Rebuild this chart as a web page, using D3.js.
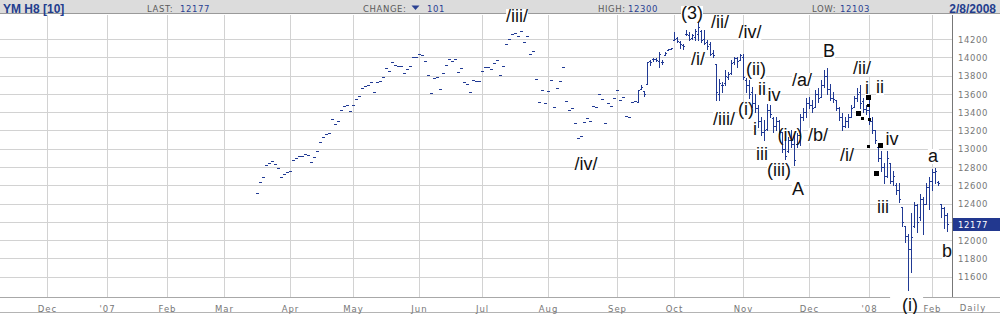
<!DOCTYPE html>
<html>
<head>
<meta charset="utf-8">
<script src="https://cdn.jsdelivr.net/npm/d3@7"></script>
<style>
body { margin: 0; background: #fff; }
svg { display: block; }
</style>
</head>
<body>
<svg width="1000" height="314"></svg>
<script>
var svg = d3.select('svg');

// x axis counts trading days from 1 Dec 2006
var monthDays = [0, 20, 40, 59, 81, 102, 124, 145, 167, 190, 209, 232, 254, 274, 295];
var monthNames = ['Dec', "'07", 'Feb', 'Mar', 'Apr', 'May', 'Jun', 'Jul', 'Aug', 'Sep', 'Oct', 'Nov', 'Dec', "'08", 'Feb'];
var priceTicks = [11600, 11800, 12000, 12200, 12400, 12600, 12800, 13000, 13200, 13400, 13600, 13800, 14000, 14200];

// thin days: a single print (open = high = low = close), day 70 .. 196
var thinStart = 70;
var thinPrices = [
    12513, 12633, 12688, 12819, 12841, 12863, 12830, 12786, 12688, 12720,
    12742, 12753, 12873, 12895, 12917, 12917, 12939, 12928, 12852, 12906,
    12972, 13070, 13125, 13158, 13169, 13322, 13267, 13300, 13420, 13464,
    13475, 13409, 13475, 13541, 13573, 13661, 13683, 13694, 13727, 13617,
    13727, 13738, 13781, 13880, 13847, 13945, 13912, 13902, 13902, 13825,
    13869, 13902, 14000, 14000, 14033, 14022, 13956, 13803, 13606, 13770,
    13781, 13650, 13825, 13912, 13978, 13956, 13978, 13836, 13880, 13727,
    13705, 13617, 13748, 13738, 13738, 13847, 13891, 13891, 13869, 13934,
    13967, 13803, 13902, 14142, 14197, 14252, 14270, 14230, 14284, 14164,
    14230, 14033, 14066, 13759, 13508, 13639, 13497, 13628, 13748, 13453,
    13661, 13738, 13891, 13519, 13420, 13442, 13278, 13114, 13136, 13289,
    13333, 13300, 13464, 13453, 13595, 13541, 13278, 13497, 13464, 13552,
    13639, 13530, 13563, 13355, 13344, 13508, 13519
];

// full OHLC bars, day 197 .. 300 (8 Feb 2008)
var barStart = 197;
var opens = [
    13514, 13650, 13630, 13705, 13960, 13980, 13978, 13960, 13950, 14030,
    14080, 14095, 14190, 14210, 14170, 14130, 14250, 14240, 14210, 14220,
    14250, 14290, 14200, 14170, 14150, 14050, 13930, 13600, 13700, 13720,
    13780, 13830, 13950, 13990, 13970, 14000, 13750, 13700, 13620, 13500,
    13450, 13300, 13180, 13220, 13420, 13340, 13250, 13300, 13180, 13000,
    12980, 13100, 13050, 13050, 13150, 13350, 13400, 13500, 13480, 13460,
    13600, 13570, 13700, 13800, 13650, 13560, 13530, 13450, 13350, 13250,
    13300, 13350, 13460, 13550, 13620, 13520, 13430, 13420, 13300, 13200,
    13020, 12900, 12800, 12700, 12840, 12650, 12600, 12550, 12360, 12150,
    12050, 11900, 12150, 12380, 12250, 12450, 12400, 12580, 12650, 12740,
    12640, 12400, 12350, 12270
];
var highs = [
    13639, 13700, 13630, 13945, 13970, 13990, 13990, 14060, 13970, 14060,
    14095, 14105, 14280, 14220, 14175, 14140, 14295, 14277, 14260, 14313,
    14386, 14295, 14295, 14186, 14167, 14076, 13931, 13767, 13730, 13858,
    13840, 13967, 14003, 14003, 14040, 14040, 13770, 13750, 13680, 13600,
    13480, 13350, 13310, 13490, 13475, 13350, 13350, 13310, 13180, 13110,
    13130, 13200, 13160, 13170, 13380, 13440, 13550, 13570, 13530, 13640,
    13660, 13750, 13860, 13880, 13710, 13620, 13530, 13460, 13390, 13350,
    13380, 13480, 13580, 13660, 13700, 13550, 13480, 13530, 13350, 13200,
    13020, 12980, 12840, 12980, 12840, 12760, 12630, 12620, 12360, 12150,
    12070, 12300, 12420, 12400, 12510, 12470, 12620, 12690, 12780, 12790,
    12650, 12400, 12360, 12300
];
var lows = [
    13514, 13650, 13580, 13705, 13920, 13960, 13960, 13890, 13930, 14030,
    14080, 14090, 14186, 14170, 14100, 14090, 14240, 14186, 14200, 14186,
    14186, 14167, 14140, 14095, 14022, 14003, 13530, 13530, 13620, 13700,
    13760, 13822, 13931, 13895, 13967, 13760, 13620, 13550, 13460, 13400,
    13240, 13150, 13090, 13200, 13350, 13180, 13200, 13160, 12960, 12890,
    12960, 13020, 12820, 13020, 13040, 13310, 13350, 13450, 13400, 13460,
    13510, 13570, 13680, 13600, 13530, 13510, 13420, 13310, 13200, 13240,
    13240, 13350, 13460, 13520, 13450, 13400, 13380, 13270, 13170, 13060,
    12870, 12760, 12620, 12690, 12620, 12600, 12510, 12420, 12160, 11980,
    11450, 11650, 12140, 12090, 12220, 12070, 12400, 12340, 12550, 12620,
    12600, 12250, 12130, 12103
];
var closes = [
    13639, 13672, 13600, 13945, 13945, 13978, 13970, 14040, 13945, 14047,
    14087, 14098, 14200, 14178, 14140, 14120, 14260, 14200, 14240, 14290,
    14330, 14190, 14160, 14120, 14040, 14020, 13620, 13720, 13700, 13800,
    13820, 13940, 13990, 13960, 14020, 13780, 13700, 13600, 13500, 13450,
    13300, 13180, 13200, 13420, 13380, 13250, 13300, 13180, 13000, 12920,
    13100, 13050, 12880, 13150, 13350, 13400, 13500, 13480, 13450, 13600,
    13550, 13700, 13800, 13650, 13560, 13540, 13450, 13350, 13250, 13300,
    13350, 13450, 13550, 13600, 13500, 13430, 13420, 13300, 13200, 13100,
    12900, 12800, 12700, 12900, 12650, 12700, 12550, 12450, 12200, 12050,
    11900, 12030, 12380, 12200, 12450, 12400, 12580, 12650, 12740, 12760,
    12620, 12350, 12278, 12177
];

// wave count written on the chart (day, price of the baseline)
var waveTexts  = ['/iii/', '(3)', '/ii/', '/iv/', '/i/', '/iii/', '(ii)', '(i)', 'ii', 'iv', 'i', 'iii', '(iv)', '(iii)', 'A', '/a/', '/b/', 'B', '/ii/', '/i/', 'i', 'ii', 'iv', 'iii', 'a', 'b', '/iv/'];
var waveDays   = [156.7, 215, 224.3, 234.3, 217, 225.7, 236.3, 233, 238.3, 242.3, 236, 238.3, 247.7, 244, 250.3, 251.7, 257, 260.7, 271.7, 266.7, 273.3, 277.7, 281.7, 278.7, 295.3, 300, 179.7];
var wavePrices = [14386, 14419, 14320, 14211, 13916, 13260, 13806, 13369, 13588, 13522, 13150, 12877, 13085, 12702, 12494, 13686, 13085, 14003, 13820, 12866, 13598, 13609, 13041, 12297, 12855, 11816, 12767];
var bottomText = '(i)', bottomDay = 287.7;

// black marker squares
var bigMarkDays = [270.3, 273.7, 277.7, 276.3];
var bigMarkPrices = [13391, 13570, 13041, 12735];
var smallMarkDays = [271.7, 273.7, 274, 273.7];
var smallMarkPrices = [13336, 13478, 13325, 13030];

var lastPrice = 12177, changeValue = 101, dayHigh = 12300, dayLow = 12103;

var blue = '#213a94';
var plotRight = 952, plotTop = 15, plotBottom = 297;

var x = d3.scaleLinear().domain([0, 300]).range([47, 947]);
var y = d3.scaleLinear().domain([11600, 14200]).range([276.7, 39]);
var px = function (d) { return Math.round(x(d)); };
var py = function (v) { return Math.round(y(v)); };

// header
svg.append('rect').attr('x', 0).attr('y', 0).attr('width', 1000).attr('height', 14).attr('fill', '#dcdcdc');
svg.append('line').attr('x1', 0).attr('x2', 1000).attr('y1', 13.5).attr('y2', 13.5).attr('stroke', '#9a9a9a');

var head = svg.append('g').attr('font-family', 'DejaVu Sans, sans-serif').attr('font-size', 8.5).attr('letter-spacing', 0.6);
head.append('text').attr('x', 3).attr('y', 12.5).attr('font-family', 'Liberation Sans, Arial, sans-serif')
    .attr('font-size', 12).attr('font-weight', 'bold').attr('letter-spacing', 0).attr('fill', '#233d8e').text('YM H8 [10]');
function headPair(xl, label, xv, value) {
    head.append('text').attr('x', xl).attr('y', 11.5).attr('fill', '#5a5a5a').text(label);
    head.append('text').attr('x', xv).attr('y', 11.5).attr('fill', '#2a4192').text(value);
}
headPair(147, 'LAST:', 180, lastPrice);
headPair(363, 'CHANGE:', 427, changeValue);
head.append('path').attr('d', 'M411.5,5.5 L419.5,5.5 L415.5,10 Z').attr('fill', '#2a4192');
headPair(598, 'HIGH:', 628, dayHigh);
headPair(812, 'LOW:', 840, dayLow);
head.append('text').attr('x', 996).attr('y', 12.5).attr('text-anchor', 'end').attr('font-family', 'Liberation Sans, Arial, sans-serif')
    .attr('font-size', 12).attr('font-weight', 'bold').attr('letter-spacing', 0).attr('fill', '#233d8e').text('2/8/2008');

// grid
var grid = svg.append('g').attr('shape-rendering', 'crispEdges').attr('stroke', '#d2d2d2');
grid.selectAll('.vg').data(monthDays).enter().append('line')
    .attr('x1', function (d) { return px(d) + 0.5; })
    .attr('x2', function (d) { return px(d) + 0.5; })
    .attr('y1', plotTop).attr('y2', plotBottom);
grid.selectAll('.hg').data(priceTicks).enter().append('line')
    .attr('x1', 0).attr('x2', plotRight)
    .attr('y1', function (d) { return py(d) + 0.5; })
    .attr('y2', function (d) { return py(d) + 0.5; });

// frame lines
svg.append('line').attr('x1', plotRight + 0.5).attr('x2', plotRight + 0.5).attr('y1', plotTop).attr('y2', plotBottom)
    .attr('stroke', '#777').attr('shape-rendering', 'crispEdges');
svg.append('line').attr('x1', 0).attr('x2', 1000).attr('y1', plotBottom + 0.5).attr('y2', plotBottom + 0.5)
    .attr('stroke', '#a8a8a8').attr('shape-rendering', 'crispEdges');
svg.append('line').attr('x1', 0).attr('x2', 1000).attr('y1', 312.5).attr('y2', 312.5)
    .attr('stroke', '#b4b4b4').attr('shape-rendering', 'crispEdges');

// wave labels: white backing under the bars (cuts the grid lines)
var labelBack = svg.append('g');
var barsG = svg.append('g').attr('stroke', blue).attr('fill', 'none').attr('shape-rendering', 'crispEdges');
var labelG = svg.append('g').attr('font-family', 'Liberation Sans, Arial, sans-serif').attr('font-size', 18).attr('fill', '#111')
    .attr('text-anchor', 'middle');

// bars
function barPath(i, o, h, l, c) {
    var cx = px(i);
    return 'M' + (cx - 1) + ',' + (py(o) + 0.5) + 'H' + (cx + 1) +
        'M' + (cx + 0.5) + ',' + py(h) + 'V' + (py(l) + 1) +
        'M' + cx + ',' + (py(c) + 0.5) + 'H' + (cx + 2);
}
barsG.selectAll('.thin').data(thinPrices).enter().append('path')
    .attr('d', function (d, k) { return barPath(thinStart + k, d, d, d, d); });
barsG.selectAll('.bar').data(closes).enter().append('path')
    .attr('d', function (d, k) { return barPath(barStart + k, opens[k], highs[k], lows[k], d); });

// marker squares
svg.selectAll('.bigmark').data(bigMarkDays).enter().append('rect')
    .attr('x', function (d) { return px(d) - 2; })
    .attr('y', function (d, k) { return py(bigMarkPrices[k]) - 2; })
    .attr('width', 5).attr('height', 5).attr('fill', '#000');
svg.selectAll('.smallmark').data(smallMarkDays).enter().append('rect')
    .attr('x', function (d) { return px(d) - 1; })
    .attr('y', function (d, k) { return py(smallMarkPrices[k]) - 1; })
    .attr('width', 3).attr('height', 3).attr('fill', '#000');

// wave labels
labelG.selectAll('text').data(waveTexts).enter().append('text')
    .attr('x', function (d, k) { return x(waveDays[k]); })
    .attr('y', function (d, k) { return y(wavePrices[k]); })
    .text(function (d) { return d; })
    .each(function () {
        var b = this.getBBox();
        labelBack.append('rect').attr('x', b.x).attr('y', b.y + 3).attr('width', b.width).attr('height', b.height - 5).attr('fill', '#fff');
    });

// axes
var yAxis = d3.axisRight(y).tickValues(priceTicks).tickSize(0).tickPadding(6).tickFormat(d3.format('d'));
var yg = svg.append('g').attr('transform', 'translate(' + plotRight + ',0.5)').call(yAxis);
yg.select('.domain').remove();
yg.selectAll('text').attr('font-family', 'DejaVu Sans, sans-serif').attr('font-size', 8.5).attr('letter-spacing', 0.6).attr('fill', '#777');

var xAxis = d3.axisBottom(x).tickValues(monthDays).tickSize(0).tickPadding(8.5)
    .tickFormat(function (d, k) { return monthNames[k]; });
var xg = svg.append('g').attr('transform', 'translate(0,' + plotBottom + ')').call(xAxis);
xg.select('.domain').remove();
xg.selectAll('text').attr('font-family', 'DejaVu Sans, sans-serif').attr('font-size', 8.5).attr('letter-spacing', 1).attr('fill', '#777');
svg.append('text').attr('x', 973).attr('y', 311).attr('text-anchor', 'middle').attr('font-family', 'DejaVu Sans, sans-serif')
    .attr('font-size', 8.5).attr('letter-spacing', 1).attr('fill', '#777').text('Daily');

// last price box
var lastG = svg.append('g');
lastG.append('rect').attr('x', plotRight + 1).attr('y', py(lastPrice) - 6).attr('width', 1000 - plotRight).attr('height', 13).attr('fill', '#22388f');
lastG.append('text').attr('x', plotRight + 6).attr('y', py(lastPrice) + 3.5).attr('font-family', 'DejaVu Sans, sans-serif')
    .attr('font-size', 8.5).attr('letter-spacing', 0.6).attr('fill', '#fff').text(lastPrice);

// bottom label sits on a white patch over the axis
var bt = svg.append('text').attr('x', x(bottomDay)).attr('y', 311).attr('text-anchor', 'middle')
    .attr('font-family', 'Liberation Sans, Arial, sans-serif').attr('font-size', 18).attr('fill', '#111').text(bottomText);
var bb = bt.node().getBBox();
svg.insert('rect', function () { return bt.node(); })
    .attr('x', bb.x - 12).attr('y', 291).attr('width', bb.width + 17).attr('height', 21).attr('fill', '#fff');
</script>
</body>
</html>
